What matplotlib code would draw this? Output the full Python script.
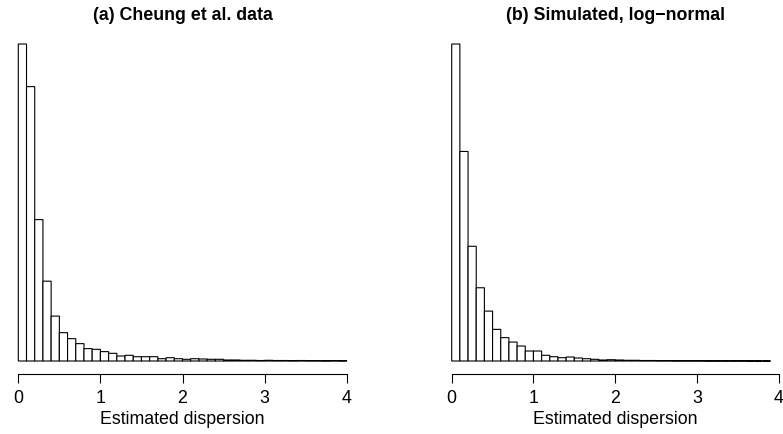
import numpy as np
from matplotlib import pyplot as plt

plt.rcParams['font.family'] = ['Liberation Sans', 'DejaVu Sans']

bin_width = 0.1
x_ticks = [0, 1, 2, 3, 4]

# bar heights (arbitrary frequency units)
cheung_freq = [317.7, 275, 141.7, 80, 45, 28.4, 22.4, 17.4, 12.4, 11.7,
               9.4, 7.7, 5.0, 5.7, 4.3, 4.3, 4.3, 2.3, 3.3, 2.3,
               1.7, 2.3, 2.0, 1.7, 1.7, 1.0, 1.0, 0.7, 0.7, 0.5,
               0.7, 0.5, 0.5, 0.4, 0.5, 0.4, 0.4, 0.3, 0.4, 0.3]
lognormal_freq = [317.7, 210, 115, 73.4, 50, 31.7, 23.4, 19, 15, 10,
                  10, 5.7, 4.3, 3.3, 4.0, 3.0, 2.3, 1.7, 1.0, 1.3,
                  1.0, 0.7, 0.7, 0.5, 0.5, 0.4, 0.4, 0.3, 0.3, 0.3,
                  0.3, 0.2, 0.2, 0.2, 0.2, 0.2, 0.1, 0.1, 0.1]

titles = ['(a) Cheung et al. data', '(b) Simulated, log\u2212normal']
font_size = 12.8


def draw_hist(ax, freq, title):
    lefts = np.arange(len(freq)) * bin_width
    ax.bar(lefts, freq, width=bin_width, align='edge', color='white',
           edgecolor='black', linewidth=0.8, snap=False, clip_on=False)
    ax.set_xlim(0, 4)
    ax.set_ylim(0, max(freq))
    for side in ('left', 'top', 'right'):
        ax.spines[side].set_visible(False)
    ax.spines['bottom'].set_position(('outward', 9.4))
    ax.spines['bottom'].set_bounds(0, 4)
    ax.spines['bottom'].set_linewidth(0.8)
    ax.set_yticks([])
    ax.set_xticks(x_ticks)
    ax.set_xticklabels([str(t) for t in x_ticks])
    ax.tick_params(axis='x', direction='out', length=6.5, width=0.8,
                   pad=5, labelsize=font_size)
    ax.set_xlabel('Estimated dispersion', fontsize=font_size, labelpad=3)
    ax.set_title(title, fontsize=font_size, fontweight='bold', pad=17)


fig = plt.figure(figsize=(7.83, 4.34), dpi=100)
bottom = (434 - 361) / 434
height = (361 - 44) / 434
ax_a = fig.add_axes([18.3 / 783, bottom, (346.7 - 18.3) / 783, height])
ax_b = fig.add_axes([451.7 / 783, bottom, (778.7 - 451.7) / 783, height])

draw_hist(ax_a, cheung_freq, titles[0])
draw_hist(ax_b, lognormal_freq, titles[1])

fig.savefig('out.png', dpi=100)
